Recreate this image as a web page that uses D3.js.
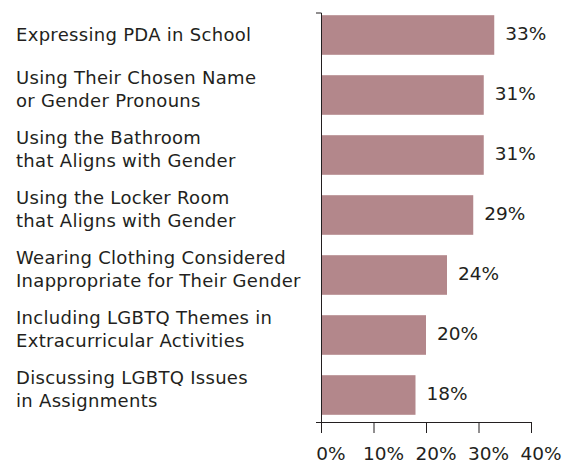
<!DOCTYPE html>
<html>
<head>
<meta charset="utf-8">
<script src="https://cdn.jsdelivr.net/npm/d3@7"></script>
<style>
  body { margin: 0; background: #fff; }
  text { font-family: "DejaVu Sans", sans-serif; fill: #231f20; }
</style>
</head>
<body>
<div id="my_dataviz"></div>
<script>
var categories = [
  "Expressing PDA in School",
  "Using Their Chosen Name\nor Gender Pronouns",
  "Using the Bathroom\nthat Aligns with Gender",
  "Using the Locker Room\nthat Aligns with Gender",
  "Wearing Clothing Considered\nInappropriate for Their Gender",
  "Including LGBTQ Themes in\nExtracurricular Activities",
  "Discussing LGBTQ Issues\nin Assignments"
];
var values = [33, 31, 31, 29, 24, 20, 18];
var tickValues = [0, 10, 20, 30, 40];
var tickLabels = ["0%", "10%", "20%", "30%", "40%"];

var width = 569, height = 463;
var barColor = "#b3878b";

var svg = d3.select('#my_dataviz')
    .append('svg')
    .attr('width', width)
    .attr('height', height);

var x = d3.scaleLinear()
    .domain([0, 40])
    .range([321, 531]);

var y = d3.scaleBand()
    .domain(categories)
    .range([5, 425])
    .paddingInner(0.34)
    .paddingOuter(0.17);

// bars
svg.selectAll('.bar')
    .data(values)
    .enter()
    .append('rect')
    .attr('class', 'bar')
    .attr('x', x(0))
    .attr('y', function(d, i){ return y(categories[i]); })
    .attr('width', function(d){ return x(d) - x(0); })
    .attr('height', y.bandwidth())
    .attr('fill', barColor);

// value labels
svg.selectAll('.val')
    .data(values)
    .enter()
    .append('text')
    .attr('class', 'val')
    .attr('x', function(d){ return x(d) + 11; })
    .attr('y', function(d, i){ return y(categories[i]) + y.bandwidth() / 2 + 4.5; })
    .style('font-size', '18.5px')
    .text(function(d){ return d + '%'; });

// category labels
var lineH = 22.7;
svg.selectAll('.cat')
    .data(categories)
    .enter()
    .append('text')
    .attr('class', 'cat')
    .style('font-size', '18px')
    .style('letter-spacing', '0.3px')
    .each(function(d){
        var lines = d.split('\n');
        var n = lines.length;
        var c = y(d) + y.bandwidth() / 2;
        var t = d3.select(this);
        lines.forEach(function(l, i){
            t.append('tspan')
                .attr('x', 16)
                .attr('y', c + 6 + (i - (n - 1) / 2) * lineH - (n - 1) * 5.7)
                .text(l);
        });
    });

// y axis line
var yFrame = d3.scaleLinear().domain([0, 1]).range([12.5, 422]);
svg.append('g')
    .attr('transform', 'translate(' + x(0) + ',0)')
    .call(d3.axisLeft(yFrame).tickValues([]).tickSizeOuter(5))
    .call(function(g){ g.select('.domain').attr('stroke', '#231f20'); });

// x axis
var xAxis = svg.append('g')
    .attr('transform', 'translate(0,422)')
    .call(d3.axisBottom(x)
        .tickValues(tickValues)
        .tickSize(11)
        .tickSizeOuter(0)
        .tickFormat(function(d, i){ return tickLabels[i]; }));
xAxis.select('.domain').attr('stroke', '#231f20');
xAxis.selectAll('.tick line').attr('stroke', '#231f20');
xAxis.selectAll('.tick text')
    .attr('dx', 9.5)
    .attr('dy', 0)
    .attr('y', 38)
    .style('font-size', '18.5px')
    .style('font-family', '"DejaVu Sans", sans-serif')
    .attr('fill', '#231f20');
</script>
</body>
</html>
